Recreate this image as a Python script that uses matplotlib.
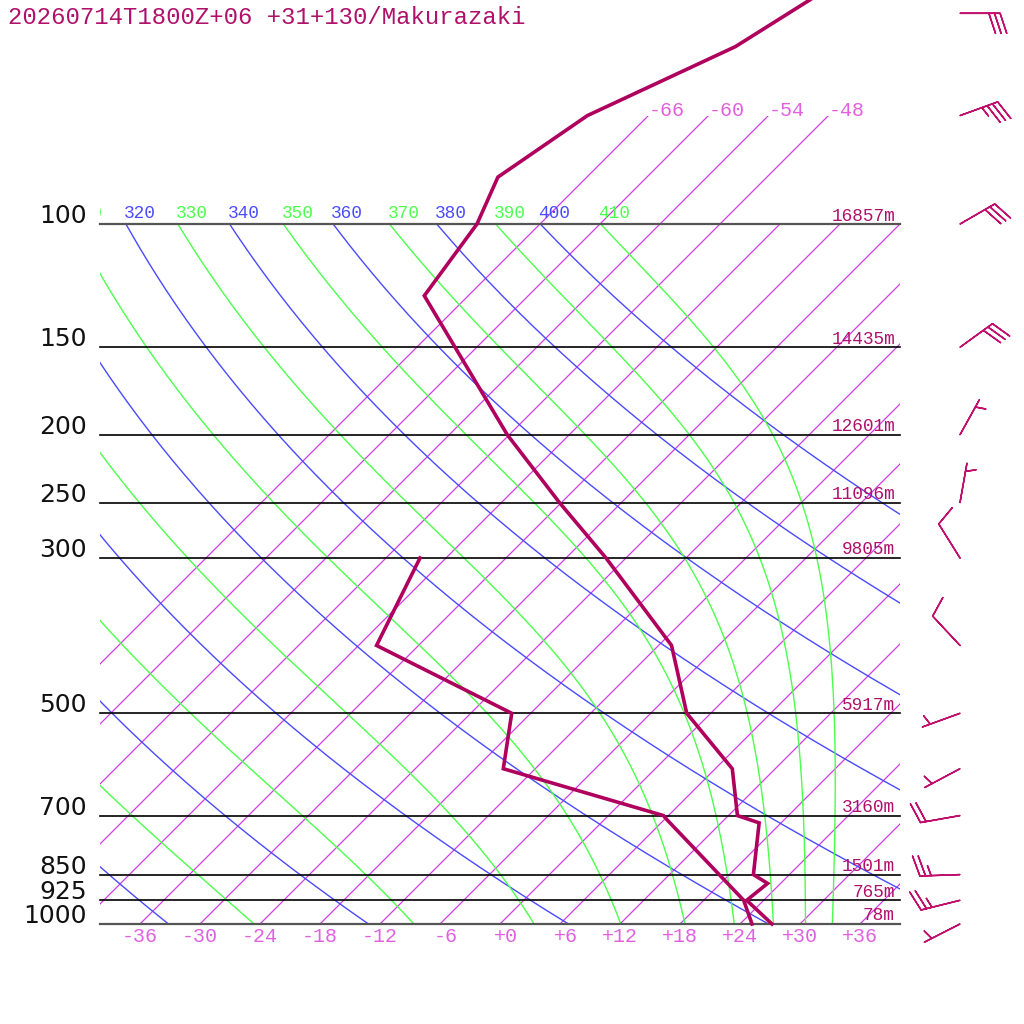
import numpy as np
import matplotlib
matplotlib.use("Agg")
import matplotlib.pyplot as plt
from matplotlib.patches import Rectangle

# ---------------- data ----------------
title = "20260714T1800Z+06 +31+130/Makurazaki"

std_levels = [100, 150, 200, 250, 300, 500, 700, 850, 925, 1000]
std_labels = ["100", "150", "200", "250", "300", "500", "700", "850", "925", "1000"]
height_labels = ["16857m", "14435m", "12601m", "11096m", "9805m",
                 "5917m", "3160m", "1501m", "765m", "78m"]

temp_ticks = [-36, -30, -24, -18, -12, -6, 0, 6, 12, 18, 24, 30, 36]
isotherm_temps = [-66, -60, -54, -48, -42, -36, -30, -24, -18, -12, -6,
                  0, 6, 12, 18, 24, 30, 36]
upper_isotherms = [-66, -60, -54, -48]

dry_thetas = [240, 260, 280, 300, 320, 340, 360, 380, 400]
moist_thetaes = [250, 270, 290, 310, 330, 350, 370, 390, 410]

temp_p = [1000, 925, 875, 850, 717, 700, 600, 500, 400, 300, 250, 200,
          126.6, 100, 85.7, 70, 55.8, 40]
temp_c = [27.2, 22.3, 22.7, 20.4, 15.8, 12.9, 7.7, -2.4, -10.7, -26.0, -36.2,
          -48.2, -70.4, -72.3, -74.9, -72.1, -64.2, -58.2]

dew_p = [1000, 925, 710, 700, 600, 500, 400, 300]
dew_c = [25.2, 22.0, 6.3, 5.5, -15.2, -19.9, -40.2, -44.6]

wind_p = [1000, 925, 850, 700, 600, 500, 400, 300, 250, 200, 150, 100, 70, 50]
wind_dir = [243, 256, 268, 260, 242, 250, 317, 328, 10, 29, 54, 60, 70, 90]
wind_spd = [5, 25, 25, 20, 5, 5, 10, 10, 5, 5, 30, 30, 35, 30]

# ---------------- skew-T geometry ----------------
SKEW = 30.4


def skx(t, p):
    return np.asarray(t) + SKEW * np.log(1000.0 / np.asarray(p, dtype=float))


def es(tc):
    return 6.112 * np.exp(17.67 * tc / (tc + 243.5))


def rsat(tc, p):
    e = es(tc)
    return 0.622 * e / (p - e)


def theta_e(tc, p):
    tk = tc + 273.15
    r = rsat(tc, p) * 1000.0
    return tk * (1000.0 / p) ** (0.2854 * (1 - 0.00028 * r)) * \
        np.exp((3.376 / tk - 0.00254) * r * (1 + 0.00081 * r))


def dtdlnp(tk, p):
    r = rsat(tk - 273.15, p)
    return (287.04 * tk + 2.501e6 * r) / (1005.7 + 2.501e6 ** 2 * r * 0.622 / (287.04 * tk ** 2))


def moist_curve(the, lnp):
    lo, hi = -80.0, 50.0
    for _ in range(60):
        mid = 0.5 * (lo + hi)
        if theta_e(mid, 1000.0) > the:
            hi = mid
        else:
            lo = mid
    tk = 0.5 * (lo + hi) + 273.15
    out = [tk]
    for i in range(len(lnp) - 1):
        h = lnp[i + 1] - lnp[i]
        p0 = np.exp(lnp[i]); pm = np.exp(lnp[i] + h / 2); p1 = np.exp(lnp[i + 1])
        k1 = dtdlnp(tk, p0)
        k2 = dtdlnp(tk + h / 2 * k1, pm)
        k3 = dtdlnp(tk + h / 2 * k2, pm)
        k4 = dtdlnp(tk + h * k3, p1)
        tk = tk + h / 6 * (k1 + 2 * k2 + 2 * k3 + k4)
        out.append(tk)
    return np.array(out) - 273.15


# ---------------- figure ----------------
fig = plt.figure(figsize=(10.24, 10.24), dpi=100)
ax = fig.add_axes([0, 0, 1, 1])
ax.set_yscale("log")
ax.set_xlim(-50, 52.4)
ax.set_ylim(1000 * np.exp(100 / 304.0), 1000 * np.exp(-924 / 304.0))
ax.axis("off")

C_ISO = "#d23ce6"
C_ISO_LBL = "#e060e0"
C_BLUE = "#4a4aff"
C_GREEN = "#4cff4c"
C_DARK = "#b0106a"
C_PROF = "#b0005e"

clip_main = Rectangle((-40, 100), 80, 900, transform=ax.transData,
                      facecolor="none", edgecolor="none")
clip_upper = Rectangle((-40, 70), 80, 930, transform=ax.transData,
                       facecolor="none", edgecolor="none")
clip_text = Rectangle((-40, 40), 100, 1400, transform=ax.transData,
                      facecolor="none", edgecolor="none")
for r in (clip_main, clip_upper, clip_text):
    ax.add_patch(r)

PX = 0.72  # points per pixel at dpi 100

# isotherms
p_iso = np.array([1000.0, 70.0])
for t in isotherm_temps:
    ln, = ax.plot(skx([t, t], p_iso), p_iso, color=C_ISO, lw=0.9, zorder=2)
    ln.set_clip_path(clip_upper if t in upper_isotherms else clip_main)
for t in upper_isotherms:
    ax.annotate("%d" % t, xy=(skx(t, 70.0), 70.0), xytext=(0, 5 * PX),
                textcoords="offset points", ha="left", va="center",
                color=C_ISO_LBL, fontsize=14.4, family="Liberation Mono")

lnp = np.linspace(np.log(1000.0), np.log(100.0), 300)
pc = np.exp(lnp)


def adiabat_label(value, x100, color):
    # labels whose whole text would lie left of the frame are invisible anyway
    if x100 < -43.2:
        return
    txt = ax.annotate("%d" % value, xy=(x100, 100.0), xytext=(-2 * PX, 11 * PX),
                      textcoords="offset points", ha="left", va="center",
                      color=color, fontsize=12.8, family="Liberation Mono")
    txt.set_clip_path(clip_text)


# dry adiabats
for th in dry_thetas:
    tc = th * (pc / 1000.0) ** 0.2857 - 273.15
    ln, = ax.plot(skx(tc, pc), pc, color=C_BLUE, lw=1.0, zorder=3)
    ln.set_clip_path(clip_main)
    adiabat_label(th, float(skx(tc[-1], 100.0)), C_BLUE)

# moist adiabats
for the in moist_thetaes:
    tc = moist_curve(the, lnp)
    ln, = ax.plot(skx(tc, pc), pc, color=C_GREEN, lw=1.0, zorder=3)
    ln.set_clip_path(clip_main)
    adiabat_label(the, float(skx(tc[-1], 100.0)), C_GREEN)

# pressure lines and labels
for p, lab, hl in zip(std_levels, std_labels, height_labels):
    edge = p in (100, 1000)
    ax.plot([-40, 40], [p, p], color="#555555" if edge else "black",
            lw=1.6 if edge else 1.2, zorder=4)
    ax.annotate(lab, xy=(-41.3, p), xytext=(0, 8 * PX), textcoords="offset points",
                ha="right", va="center", color="#111111", fontsize=18,
                family="DejaVu Sans")
    ax.annotate(hl, xy=(39.5, p), xytext=(0, 8 * PX), textcoords="offset points",
                ha="right", va="center", color=C_DARK, fontsize=12.8,
                family="Liberation Mono", zorder=5)

# temperature tick labels
for t in temp_ticks:
    ax.annotate("%+d" % t if t != 0 else "+0", xy=(t + 1.8, 1000.0), xytext=(0, -13 * PX),
                textcoords="offset points", ha="right", va="center",
                color=C_ISO_LBL, fontsize=14.4, family="Liberation Mono")

# profiles
ax.plot(skx(temp_c, temp_p), temp_p, color=C_PROF, lw=2.6, zorder=6,
        solid_joinstyle="miter")
ax.plot(skx(dew_c, dew_p), dew_p, color=C_PROF, lw=2.6, zorder=6,
        solid_joinstyle="miter")

# wind barbs
wd = np.deg2rad(np.array(wind_dir, dtype=float))
ws = np.array(wind_spd, dtype=float)
u = -ws * np.sin(wd)
v = -ws * np.cos(wd)
ax.barbs(np.full(len(wind_p), 46.0), np.array(wind_p, dtype=float), u, v,
         length=7.6, pivot="tip", color="#c0106e", linewidth=1.1,
         sizes=dict(height=0.5, width=0.33, spacing=0.14, emptybarb=0.0),
         zorder=7, clip_on=False)

# title
fig.text(8 / 1024, 1 - 18 / 1024, title, ha="left", va="center",
         color=C_DARK, fontsize=17.2, family="Liberation Mono")

fig.savefig("out.png", dpi=100, facecolor="white")
